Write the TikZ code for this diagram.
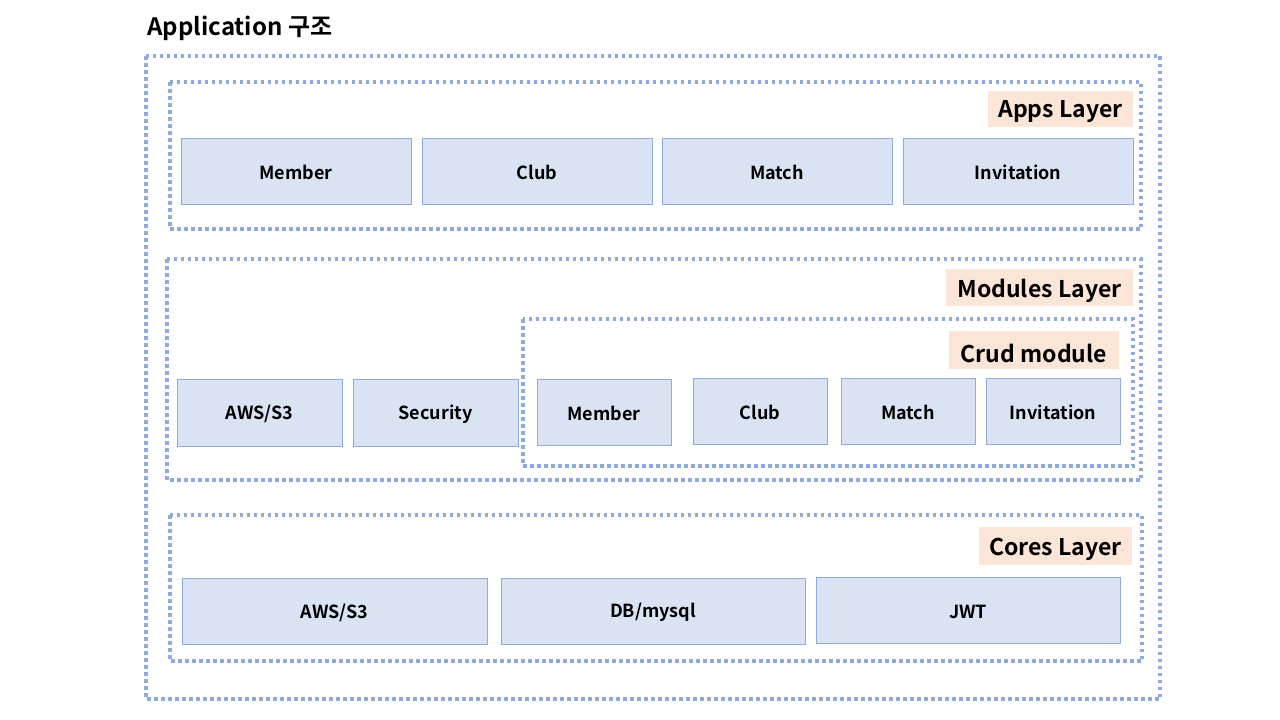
\documentclass[tikz,border=0pt]{standalone}
\usepackage{fontspec}
\setmainfont{Noto Sans CJK KR}[BoldFont={Noto Sans CJK KR Bold}]
\definecolor{dotblue}{HTML}{8FAADC}
\definecolor{boxfill}{HTML}{DAE3F3}
\definecolor{labfill}{HTML}{FBE5D6}
\tikzset{
  layer/.style={draw=dotblue, line width=3.5pt, dash pattern=on 3.5pt off 3.5pt},
  comp/.style={draw=dotblue, fill=boxfill, line width=1pt},
  comptext/.style={font=\fontsize{18}{20}\selectfont\bfseries, yshift=-1.5pt},
  lab/.style={font=\fontsize{23}{26}\selectfont\bfseries, inner sep=0pt, yshift=-3pt},
}
\newcommand{\compbox}[6]{%
  \draw[comp] (#2,#3) rectangle (#4,#5);
  \node[comptext] (#1) at ({(#2+#4)/2},{(#3+#5)/2}) {#6};}
\newcommand{\labbox}[6]{%
  \fill[labfill] (#2,#3) rectangle (#4,#5);
  \node[lab] (#1) at ({(#2+#4)/2},{(#3+#5)/2}) {#6};}
\begin{document}
\begin{tikzpicture}[x=1pt,y=-1pt]
\useasboundingbox (0,0) rectangle (1280,720);
\node[anchor=west, font=\fontsize{24}{27}\selectfont\bfseries] (title) at (144,28) {Application 구조};
% outer
\draw[layer] (146,56) rectangle (1160,699);
% apps layer
\draw[layer] (170,82) rectangle (1141,229);
\labbox{applab}{988}{91}{1133}{127}{Apps Layer}
\compbox{amember}{181}{138}{411}{204}{Member}
\compbox{aclub}{422}{138}{652}{204}{Club}
\compbox{amatch}{662}{138}{892}{204}{Match}
\compbox{ainv}{903}{138}{1133}{204}{Invitation}
% modules layer
\draw[layer] (167,259) rectangle (1141,480);
\labbox{modlab}{946}{269}{1133}{306}{Modules Layer}
\draw[layer] (523,319) rectangle (1133,466);
\labbox{crudlab}{949}{331}{1119}{369}{Crud module}
\compbox{maws}{177}{379}{342}{446}{AWS/S3}
\compbox{msec}{353}{379}{518}{446}{Security}
\compbox{mmember}{537}{379}{671}{445}{Member}
\compbox{mclub}{693}{378}{827}{444}{Club}
\compbox{mmatch}{841}{378}{975}{444}{Match}
\compbox{minv}{986}{378}{1120}{444}{Invitation}
% cores layer
\draw[layer] (170,515) rectangle (1142,661);
\labbox{corelab}{979}{527}{1132}{565}{Cores Layer}
\compbox{caws}{182}{578}{487}{644}{AWS/S3}
\compbox{cdb}{501}{578}{805}{644}{DB/mysql}
\compbox{cjwt}{816}{577}{1120}{643}{JWT}
\end{tikzpicture}
\end{document}
